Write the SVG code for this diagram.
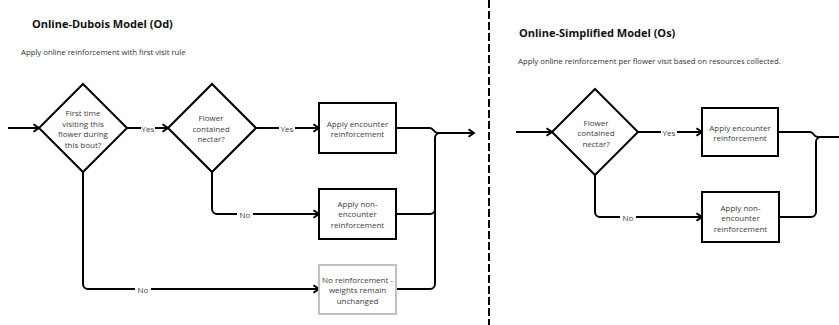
<svg xmlns="http://www.w3.org/2000/svg" width="839" height="325" viewBox="0 0 839 325">
  <defs>
    <marker id="chev" viewBox="0 0 8 10" refX="7" refY="5" markerWidth="8" markerHeight="10" markerUnits="userSpaceOnUse" orient="auto">
      <path d="M1.5,1.2 L7,5 L1.5,8.8" fill="none" stroke="#000" stroke-width="2" stroke-linejoin="miter"/>
    </marker>
  </defs>
  <style>
    .title { font-family: "Open Sans", "Noto Sans", sans-serif; font-weight: 700; font-size: 11px; fill: #111; }
    .sub { font-family: "Open Sans", "Noto Sans", sans-serif; font-size: 7.75px; fill: #333; }
    .txt { font-family: "Open Sans", "Noto Sans", sans-serif; font-size: 8px; fill: #404040; text-anchor: middle; }
    .lbl { font-family: "Open Sans", "Noto Sans", sans-serif; font-size: 8px; fill: #404040; text-anchor: middle; dominant-baseline: central; }
    .shape { fill: #fff; stroke: #000; stroke-width: 2; }
    .muted { fill: #fff; stroke: #b9c3cc; stroke-width: 2; }
    .edge { fill: none; stroke: #000; stroke-width: 2; }
    .arrow { marker-end: url(#chev); }
    .divider { stroke: #000; stroke-width: 2; stroke-dasharray: 8 3; }
  </style>
  <rect width="839" height="325" fill="#fff"/>

  <!-- panel headings -->
  <text class="title" x="32" y="28">Online-Dubois Model (Od)</text>
  <text class="sub" x="21" y="55">Apply online reinforcement with first visit rule</text>
  <text class="title" x="519" y="37">Online-Simplified Model (Os)</text>
  <text class="sub" x="518" y="64">Apply online reinforcement per flower visit based on resources collected.</text>

  <line class="divider" x1="489" y1="0" x2="489" y2="325"/>

  <g id="connectors">
    <!-- left panel -->
    <path class="edge arrow" d="M8,128 H39"/>
    <path class="edge" d="M127,128 H141"/>
    <path class="edge arrow" d="M155,128 H168"/>
    <path class="edge" d="M256,128 H279"/>
    <path class="edge arrow" d="M295,128 H319"/>
    <path class="edge" d="M212,172 V209 A5,5 0 0 0 217,214 H237"/>
    <path class="edge arrow" d="M253,214 H319"/>
    <path class="edge" d="M83,172 V284 A5,5 0 0 0 88,289 H135"/>
    <path class="edge arrow" d="M151,289 H319"/>
    <path class="edge arrow" d="M396,128 H430 C434,128 433,133 438,133 H474"/>
    <path class="edge" d="M396,214 H430 A5,5 0 0 0 435,209 V138 A5,5 0 0 1 440,133"/>
    <path class="edge" d="M396,289 H430 A5,5 0 0 0 435,284 V209"/>
    <!-- right panel -->
    <path class="edge arrow" d="M516,132 H552"/>
    <path class="edge" d="M638,132 H661"/>
    <path class="edge arrow" d="M677,132 H702"/>
    <path class="edge" d="M595,175 V212 A5,5 0 0 0 600,217 H620"/>
    <path class="edge arrow" d="M636,217 H702"/>
    <path class="edge" d="M778,132 H810 C814,132 813,137 818,137 H839"/>
    <path class="edge" d="M779,217 H811 A5,5 0 0 0 816,212 V142 A5,5 0 0 1 821,137"/>
    <text class="lbl" x="148" y="128">Yes</text>
    <text class="lbl" x="287" y="128">Yes</text>
    <text class="lbl" x="245" y="214">No</text>
    <text class="lbl" x="143" y="289">No</text>
    <text class="lbl" x="669" y="132">Yes</text>
    <text class="lbl" x="628" y="217">No</text>
  </g>

  <g id="od-first-visit">
    <polygon class="shape" points="83,84 127,128 83,172 39,128"/>
    <text class="txt"><tspan x="83" y="116">First time</tspan><tspan x="83" y="126.5">visiting this</tspan><tspan x="83" y="137">flower during</tspan><tspan x="83" y="147.5">this bout?</tspan></text>
  </g>
  <g id="od-nectar">
    <polygon class="shape" points="212,84 256,128 212,172 168,128"/>
    <text class="txt"><tspan x="211" y="121">Flower</tspan><tspan x="211" y="131.5">contained</tspan><tspan x="211" y="142">nectar?</tspan></text>
  </g>
  <g id="od-encounter">
    <rect class="shape" x="319" y="103" width="77" height="50"/>
    <text class="txt"><tspan x="357.5" y="126.5">Apply encounter</tspan><tspan x="357.5" y="137">reinforcement</tspan></text>
  </g>
  <g id="od-non-encounter">
    <rect class="shape" x="319" y="189" width="77" height="50"/>
    <text class="txt"><tspan x="357.5" y="206.5">Apply non-</tspan><tspan x="357.5" y="217">encounter</tspan><tspan x="357.5" y="227.5">reinforcement</tspan></text>
  </g>
  <g id="od-none">
    <rect class="muted" x="319" y="265" width="77" height="49"/>
    <text class="txt"><tspan x="357.5" y="282.5">No reinforcement -</tspan><tspan x="357.5" y="293">weights remain</tspan><tspan x="357.5" y="303.5">unchanged</tspan></text>
  </g>

  <g id="os-nectar">
    <polygon class="shape" points="595,89 638,132 595,175 552,132"/>
    <text class="txt"><tspan x="596" y="125.5">Flower</tspan><tspan x="596" y="136">contained</tspan><tspan x="596" y="146.5">nectar?</tspan></text>
  </g>
  <g id="os-encounter">
    <rect class="shape" x="702" y="108" width="76" height="48"/>
    <text class="txt"><tspan x="740" y="130.5">Apply encounter</tspan><tspan x="740" y="141">reinforcement</tspan></text>
  </g>
  <g id="os-non-encounter">
    <rect class="shape" x="702" y="192" width="77" height="50"/>
    <text class="txt"><tspan x="740.5" y="210.5">Apply non-</tspan><tspan x="740.5" y="221">encounter</tspan><tspan x="740.5" y="231.5">reinforcement</tspan></text>
  </g>
</svg>
